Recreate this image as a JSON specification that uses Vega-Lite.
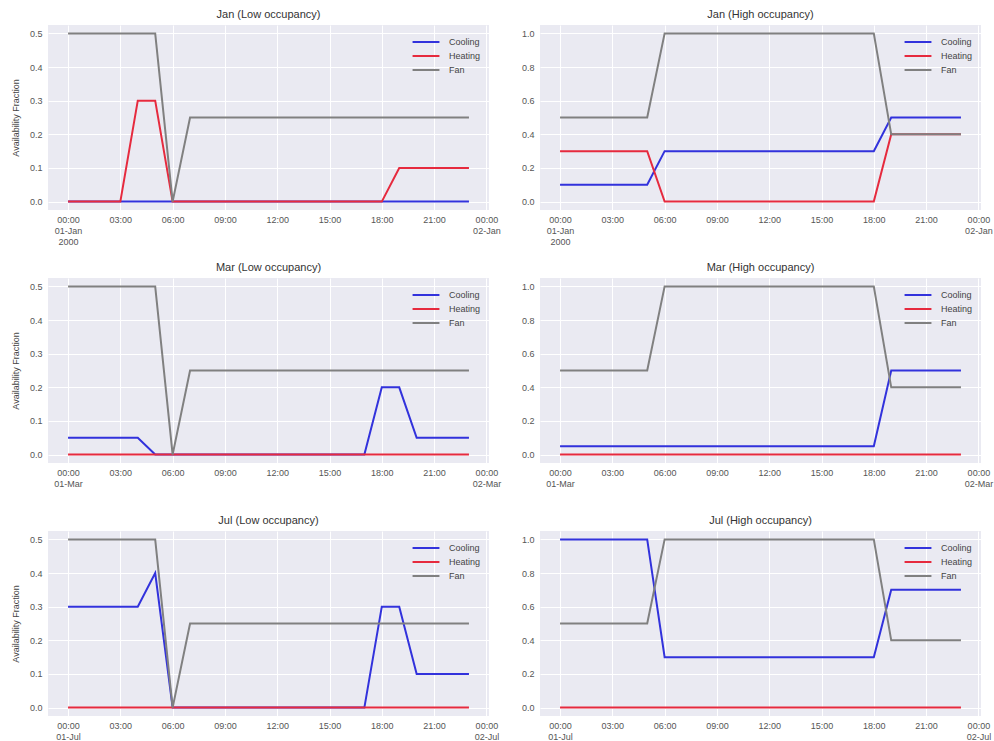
{
  "$schema": "https://vega.github.io/schema/vega-lite/v6.json",
  "padding": {"left": 11, "top": 9, "right": 5, "bottom": 5},
  "background": "white",
  "data": {"values": [
      {"panel":"Jan Low","hour":0,"Cooling":0,"Heating":0,"Fan":0.5},
      {"panel":"Jan Low","hour":1,"Cooling":0,"Heating":0,"Fan":0.5},
      {"panel":"Jan Low","hour":2,"Cooling":0,"Heating":0,"Fan":0.5},
      {"panel":"Jan Low","hour":3,"Cooling":0,"Heating":0,"Fan":0.5},
      {"panel":"Jan Low","hour":4,"Cooling":0,"Heating":0.3,"Fan":0.5},
      {"panel":"Jan Low","hour":5,"Cooling":0,"Heating":0.3,"Fan":0.5},
      {"panel":"Jan Low","hour":6,"Cooling":0,"Heating":0,"Fan":0},
      {"panel":"Jan Low","hour":7,"Cooling":0,"Heating":0,"Fan":0.25},
      {"panel":"Jan Low","hour":8,"Cooling":0,"Heating":0,"Fan":0.25},
      {"panel":"Jan Low","hour":9,"Cooling":0,"Heating":0,"Fan":0.25},
      {"panel":"Jan Low","hour":10,"Cooling":0,"Heating":0,"Fan":0.25},
      {"panel":"Jan Low","hour":11,"Cooling":0,"Heating":0,"Fan":0.25},
      {"panel":"Jan Low","hour":12,"Cooling":0,"Heating":0,"Fan":0.25},
      {"panel":"Jan Low","hour":13,"Cooling":0,"Heating":0,"Fan":0.25},
      {"panel":"Jan Low","hour":14,"Cooling":0,"Heating":0,"Fan":0.25},
      {"panel":"Jan Low","hour":15,"Cooling":0,"Heating":0,"Fan":0.25},
      {"panel":"Jan Low","hour":16,"Cooling":0,"Heating":0,"Fan":0.25},
      {"panel":"Jan Low","hour":17,"Cooling":0,"Heating":0,"Fan":0.25},
      {"panel":"Jan Low","hour":18,"Cooling":0,"Heating":0,"Fan":0.25},
      {"panel":"Jan Low","hour":19,"Cooling":0,"Heating":0.1,"Fan":0.25},
      {"panel":"Jan Low","hour":20,"Cooling":0,"Heating":0.1,"Fan":0.25},
      {"panel":"Jan Low","hour":21,"Cooling":0,"Heating":0.1,"Fan":0.25},
      {"panel":"Jan Low","hour":22,"Cooling":0,"Heating":0.1,"Fan":0.25},
      {"panel":"Jan Low","hour":23,"Cooling":0,"Heating":0.1,"Fan":0.25},

      {"panel":"Jan High","hour":0,"Cooling":0.1,"Heating":0.3,"Fan":0.5},
      {"panel":"Jan High","hour":1,"Cooling":0.1,"Heating":0.3,"Fan":0.5},
      {"panel":"Jan High","hour":2,"Cooling":0.1,"Heating":0.3,"Fan":0.5},
      {"panel":"Jan High","hour":3,"Cooling":0.1,"Heating":0.3,"Fan":0.5},
      {"panel":"Jan High","hour":4,"Cooling":0.1,"Heating":0.3,"Fan":0.5},
      {"panel":"Jan High","hour":5,"Cooling":0.1,"Heating":0.3,"Fan":0.5},
      {"panel":"Jan High","hour":6,"Cooling":0.3,"Heating":0,"Fan":1.0},
      {"panel":"Jan High","hour":7,"Cooling":0.3,"Heating":0,"Fan":1.0},
      {"panel":"Jan High","hour":8,"Cooling":0.3,"Heating":0,"Fan":1.0},
      {"panel":"Jan High","hour":9,"Cooling":0.3,"Heating":0,"Fan":1.0},
      {"panel":"Jan High","hour":10,"Cooling":0.3,"Heating":0,"Fan":1.0},
      {"panel":"Jan High","hour":11,"Cooling":0.3,"Heating":0,"Fan":1.0},
      {"panel":"Jan High","hour":12,"Cooling":0.3,"Heating":0,"Fan":1.0},
      {"panel":"Jan High","hour":13,"Cooling":0.3,"Heating":0,"Fan":1.0},
      {"panel":"Jan High","hour":14,"Cooling":0.3,"Heating":0,"Fan":1.0},
      {"panel":"Jan High","hour":15,"Cooling":0.3,"Heating":0,"Fan":1.0},
      {"panel":"Jan High","hour":16,"Cooling":0.3,"Heating":0,"Fan":1.0},
      {"panel":"Jan High","hour":17,"Cooling":0.3,"Heating":0,"Fan":1.0},
      {"panel":"Jan High","hour":18,"Cooling":0.3,"Heating":0,"Fan":1.0},
      {"panel":"Jan High","hour":19,"Cooling":0.5,"Heating":0.4,"Fan":0.4},
      {"panel":"Jan High","hour":20,"Cooling":0.5,"Heating":0.4,"Fan":0.4},
      {"panel":"Jan High","hour":21,"Cooling":0.5,"Heating":0.4,"Fan":0.4},
      {"panel":"Jan High","hour":22,"Cooling":0.5,"Heating":0.4,"Fan":0.4},
      {"panel":"Jan High","hour":23,"Cooling":0.5,"Heating":0.4,"Fan":0.4},

      {"panel":"Mar Low","hour":0,"Cooling":0.05,"Heating":0,"Fan":0.5},
      {"panel":"Mar Low","hour":1,"Cooling":0.05,"Heating":0,"Fan":0.5},
      {"panel":"Mar Low","hour":2,"Cooling":0.05,"Heating":0,"Fan":0.5},
      {"panel":"Mar Low","hour":3,"Cooling":0.05,"Heating":0,"Fan":0.5},
      {"panel":"Mar Low","hour":4,"Cooling":0.05,"Heating":0,"Fan":0.5},
      {"panel":"Mar Low","hour":5,"Cooling":0,"Heating":0,"Fan":0.5},
      {"panel":"Mar Low","hour":6,"Cooling":0,"Heating":0,"Fan":0},
      {"panel":"Mar Low","hour":7,"Cooling":0,"Heating":0,"Fan":0.25},
      {"panel":"Mar Low","hour":8,"Cooling":0,"Heating":0,"Fan":0.25},
      {"panel":"Mar Low","hour":9,"Cooling":0,"Heating":0,"Fan":0.25},
      {"panel":"Mar Low","hour":10,"Cooling":0,"Heating":0,"Fan":0.25},
      {"panel":"Mar Low","hour":11,"Cooling":0,"Heating":0,"Fan":0.25},
      {"panel":"Mar Low","hour":12,"Cooling":0,"Heating":0,"Fan":0.25},
      {"panel":"Mar Low","hour":13,"Cooling":0,"Heating":0,"Fan":0.25},
      {"panel":"Mar Low","hour":14,"Cooling":0,"Heating":0,"Fan":0.25},
      {"panel":"Mar Low","hour":15,"Cooling":0,"Heating":0,"Fan":0.25},
      {"panel":"Mar Low","hour":16,"Cooling":0,"Heating":0,"Fan":0.25},
      {"panel":"Mar Low","hour":17,"Cooling":0,"Heating":0,"Fan":0.25},
      {"panel":"Mar Low","hour":18,"Cooling":0.2,"Heating":0,"Fan":0.25},
      {"panel":"Mar Low","hour":19,"Cooling":0.2,"Heating":0,"Fan":0.25},
      {"panel":"Mar Low","hour":20,"Cooling":0.05,"Heating":0,"Fan":0.25},
      {"panel":"Mar Low","hour":21,"Cooling":0.05,"Heating":0,"Fan":0.25},
      {"panel":"Mar Low","hour":22,"Cooling":0.05,"Heating":0,"Fan":0.25},
      {"panel":"Mar Low","hour":23,"Cooling":0.05,"Heating":0,"Fan":0.25},

      {"panel":"Mar High","hour":0,"Cooling":0.05,"Heating":0,"Fan":0.5},
      {"panel":"Mar High","hour":1,"Cooling":0.05,"Heating":0,"Fan":0.5},
      {"panel":"Mar High","hour":2,"Cooling":0.05,"Heating":0,"Fan":0.5},
      {"panel":"Mar High","hour":3,"Cooling":0.05,"Heating":0,"Fan":0.5},
      {"panel":"Mar High","hour":4,"Cooling":0.05,"Heating":0,"Fan":0.5},
      {"panel":"Mar High","hour":5,"Cooling":0.05,"Heating":0,"Fan":0.5},
      {"panel":"Mar High","hour":6,"Cooling":0.05,"Heating":0,"Fan":1.0},
      {"panel":"Mar High","hour":7,"Cooling":0.05,"Heating":0,"Fan":1.0},
      {"panel":"Mar High","hour":8,"Cooling":0.05,"Heating":0,"Fan":1.0},
      {"panel":"Mar High","hour":9,"Cooling":0.05,"Heating":0,"Fan":1.0},
      {"panel":"Mar High","hour":10,"Cooling":0.05,"Heating":0,"Fan":1.0},
      {"panel":"Mar High","hour":11,"Cooling":0.05,"Heating":0,"Fan":1.0},
      {"panel":"Mar High","hour":12,"Cooling":0.05,"Heating":0,"Fan":1.0},
      {"panel":"Mar High","hour":13,"Cooling":0.05,"Heating":0,"Fan":1.0},
      {"panel":"Mar High","hour":14,"Cooling":0.05,"Heating":0,"Fan":1.0},
      {"panel":"Mar High","hour":15,"Cooling":0.05,"Heating":0,"Fan":1.0},
      {"panel":"Mar High","hour":16,"Cooling":0.05,"Heating":0,"Fan":1.0},
      {"panel":"Mar High","hour":17,"Cooling":0.05,"Heating":0,"Fan":1.0},
      {"panel":"Mar High","hour":18,"Cooling":0.05,"Heating":0,"Fan":1.0},
      {"panel":"Mar High","hour":19,"Cooling":0.5,"Heating":0,"Fan":0.4},
      {"panel":"Mar High","hour":20,"Cooling":0.5,"Heating":0,"Fan":0.4},
      {"panel":"Mar High","hour":21,"Cooling":0.5,"Heating":0,"Fan":0.4},
      {"panel":"Mar High","hour":22,"Cooling":0.5,"Heating":0,"Fan":0.4},
      {"panel":"Mar High","hour":23,"Cooling":0.5,"Heating":0,"Fan":0.4},

      {"panel":"Jul Low","hour":0,"Cooling":0.3,"Heating":0,"Fan":0.5},
      {"panel":"Jul Low","hour":1,"Cooling":0.3,"Heating":0,"Fan":0.5},
      {"panel":"Jul Low","hour":2,"Cooling":0.3,"Heating":0,"Fan":0.5},
      {"panel":"Jul Low","hour":3,"Cooling":0.3,"Heating":0,"Fan":0.5},
      {"panel":"Jul Low","hour":4,"Cooling":0.3,"Heating":0,"Fan":0.5},
      {"panel":"Jul Low","hour":5,"Cooling":0.4,"Heating":0,"Fan":0.5},
      {"panel":"Jul Low","hour":6,"Cooling":0,"Heating":0,"Fan":0},
      {"panel":"Jul Low","hour":7,"Cooling":0,"Heating":0,"Fan":0.25},
      {"panel":"Jul Low","hour":8,"Cooling":0,"Heating":0,"Fan":0.25},
      {"panel":"Jul Low","hour":9,"Cooling":0,"Heating":0,"Fan":0.25},
      {"panel":"Jul Low","hour":10,"Cooling":0,"Heating":0,"Fan":0.25},
      {"panel":"Jul Low","hour":11,"Cooling":0,"Heating":0,"Fan":0.25},
      {"panel":"Jul Low","hour":12,"Cooling":0,"Heating":0,"Fan":0.25},
      {"panel":"Jul Low","hour":13,"Cooling":0,"Heating":0,"Fan":0.25},
      {"panel":"Jul Low","hour":14,"Cooling":0,"Heating":0,"Fan":0.25},
      {"panel":"Jul Low","hour":15,"Cooling":0,"Heating":0,"Fan":0.25},
      {"panel":"Jul Low","hour":16,"Cooling":0,"Heating":0,"Fan":0.25},
      {"panel":"Jul Low","hour":17,"Cooling":0,"Heating":0,"Fan":0.25},
      {"panel":"Jul Low","hour":18,"Cooling":0.3,"Heating":0,"Fan":0.25},
      {"panel":"Jul Low","hour":19,"Cooling":0.3,"Heating":0,"Fan":0.25},
      {"panel":"Jul Low","hour":20,"Cooling":0.1,"Heating":0,"Fan":0.25},
      {"panel":"Jul Low","hour":21,"Cooling":0.1,"Heating":0,"Fan":0.25},
      {"panel":"Jul Low","hour":22,"Cooling":0.1,"Heating":0,"Fan":0.25},
      {"panel":"Jul Low","hour":23,"Cooling":0.1,"Heating":0,"Fan":0.25},

      {"panel":"Jul High","hour":0,"Cooling":1.0,"Heating":0,"Fan":0.5},
      {"panel":"Jul High","hour":1,"Cooling":1.0,"Heating":0,"Fan":0.5},
      {"panel":"Jul High","hour":2,"Cooling":1.0,"Heating":0,"Fan":0.5},
      {"panel":"Jul High","hour":3,"Cooling":1.0,"Heating":0,"Fan":0.5},
      {"panel":"Jul High","hour":4,"Cooling":1.0,"Heating":0,"Fan":0.5},
      {"panel":"Jul High","hour":5,"Cooling":1.0,"Heating":0,"Fan":0.5},
      {"panel":"Jul High","hour":6,"Cooling":0.3,"Heating":0,"Fan":1.0},
      {"panel":"Jul High","hour":7,"Cooling":0.3,"Heating":0,"Fan":1.0},
      {"panel":"Jul High","hour":8,"Cooling":0.3,"Heating":0,"Fan":1.0},
      {"panel":"Jul High","hour":9,"Cooling":0.3,"Heating":0,"Fan":1.0},
      {"panel":"Jul High","hour":10,"Cooling":0.3,"Heating":0,"Fan":1.0},
      {"panel":"Jul High","hour":11,"Cooling":0.3,"Heating":0,"Fan":1.0},
      {"panel":"Jul High","hour":12,"Cooling":0.3,"Heating":0,"Fan":1.0},
      {"panel":"Jul High","hour":13,"Cooling":0.3,"Heating":0,"Fan":1.0},
      {"panel":"Jul High","hour":14,"Cooling":0.3,"Heating":0,"Fan":1.0},
      {"panel":"Jul High","hour":15,"Cooling":0.3,"Heating":0,"Fan":1.0},
      {"panel":"Jul High","hour":16,"Cooling":0.3,"Heating":0,"Fan":1.0},
      {"panel":"Jul High","hour":17,"Cooling":0.3,"Heating":0,"Fan":1.0},
      {"panel":"Jul High","hour":18,"Cooling":0.3,"Heating":0,"Fan":1.0},
      {"panel":"Jul High","hour":19,"Cooling":0.7,"Heating":0,"Fan":0.4},
      {"panel":"Jul High","hour":20,"Cooling":0.7,"Heating":0,"Fan":0.4},
      {"panel":"Jul High","hour":21,"Cooling":0.7,"Heating":0,"Fan":0.4},
      {"panel":"Jul High","hour":22,"Cooling":0.7,"Heating":0,"Fan":0.4},
      {"panel":"Jul High","hour":23,"Cooling":0.7,"Heating":0,"Fan":0.4}
  ]},
  "columns": 2,
  "spacing": {"row": 68, "column": 51},
  "bounds": "flush",
  "resolve": {
    "scale": {"x": "independent", "y": "independent", "color": "independent"},
    "legend": {"color": "independent"}
  },
  "concat": [
    {
      "title": "Jan (Low occupancy)",
      "width": 441, "height": 185,
      "transform": [{"filter": "datum.panel == 'Jan Low'"}, {"fold": ["Cooling", "Heating", "Fan"], "as": ["series", "value"]}],
      "mark": {"type": "line"},
      "encoding": {
        "x": {"field": "hour", "type": "quantitative", "scale": {"domain": [-1.15, 24.15], "nice": false, "zero": false}, "axis": {"title": null, "values": [0, 3, 6, 9, 12, 15, 18, 21, 24], "labelExpr": "datum.value == 0 ? ['00:00', '01-Jan', '2000'] : datum.value == 24 ? ['00:00', '02-Jan'] : (datum.value < 10 ? '0' : '') + datum.value + ':00'"}},
        "y": {"field": "value", "type": "quantitative", "scale": {"domain": [-0.025, 0.525], "nice": false, "zero": false}, "axis": {"values": [0, 0.1, 0.2, 0.3, 0.4, 0.5], "format": ".1f", "title": "Availability Fraction"}},
        "color": {"field": "series", "type": "nominal", "sort": null, "scale": {"domain": ["Cooling", "Heating", "Fan"], "range": ["#3232dc", "#e62a3e", "#808080"]}},
        "strokeWidth": {"field": "series", "type": "ordinal", "scale": {"domain": ["Cooling", "Heating", "Fan"], "range": [2, 2, 1.5]}, "legend": null}
      }
    },
    {
      "title": "Jan (High occupancy)",
      "width": 441, "height": 185,
      "transform": [{"filter": "datum.panel == 'Jan High'"}, {"fold": ["Cooling", "Heating", "Fan"], "as": ["series", "value"]}],
      "mark": {"type": "line"},
      "encoding": {
        "x": {"field": "hour", "type": "quantitative", "scale": {"domain": [-1.15, 24.15], "nice": false, "zero": false}, "axis": {"title": null, "values": [0, 3, 6, 9, 12, 15, 18, 21, 24], "labelExpr": "datum.value == 0 ? ['00:00', '01-Jan', '2000'] : datum.value == 24 ? ['00:00', '02-Jan'] : (datum.value < 10 ? '0' : '') + datum.value + ':00'"}},
        "y": {"field": "value", "type": "quantitative", "scale": {"domain": [-0.05, 1.05], "nice": false, "zero": false}, "axis": {"values": [0, 0.2, 0.4, 0.6, 0.8, 1.0], "format": ".1f", "title": null}},
        "color": {"field": "series", "type": "nominal", "sort": null, "scale": {"domain": ["Cooling", "Heating", "Fan"], "range": ["#3232dc", "#e62a3e", "#808080"]}},
        "strokeWidth": {"field": "series", "type": "ordinal", "scale": {"domain": ["Cooling", "Heating", "Fan"], "range": [2, 2, 1.5]}, "legend": null}
      }
    },
    {
      "title": "Mar (Low occupancy)",
      "width": 441, "height": 185,
      "transform": [{"filter": "datum.panel == 'Mar Low'"}, {"fold": ["Cooling", "Heating", "Fan"], "as": ["series", "value"]}],
      "mark": {"type": "line"},
      "encoding": {
        "x": {"field": "hour", "type": "quantitative", "scale": {"domain": [-1.15, 24.15], "nice": false, "zero": false}, "axis": {"title": null, "values": [0, 3, 6, 9, 12, 15, 18, 21, 24], "labelExpr": "datum.value == 0 ? ['00:00', '01-Mar'] : datum.value == 24 ? ['00:00', '02-Mar'] : (datum.value < 10 ? '0' : '') + datum.value + ':00'"}},
        "y": {"field": "value", "type": "quantitative", "scale": {"domain": [-0.025, 0.525], "nice": false, "zero": false}, "axis": {"values": [0, 0.1, 0.2, 0.3, 0.4, 0.5], "format": ".1f", "title": "Availability Fraction"}},
        "color": {"field": "series", "type": "nominal", "sort": null, "scale": {"domain": ["Cooling", "Heating", "Fan"], "range": ["#3232dc", "#e62a3e", "#808080"]}},
        "strokeWidth": {"field": "series", "type": "ordinal", "scale": {"domain": ["Cooling", "Heating", "Fan"], "range": [2, 2, 1.5]}, "legend": null}
      }
    },
    {
      "title": "Mar (High occupancy)",
      "width": 441, "height": 185,
      "transform": [{"filter": "datum.panel == 'Mar High'"}, {"fold": ["Cooling", "Heating", "Fan"], "as": ["series", "value"]}],
      "mark": {"type": "line"},
      "encoding": {
        "x": {"field": "hour", "type": "quantitative", "scale": {"domain": [-1.15, 24.15], "nice": false, "zero": false}, "axis": {"title": null, "values": [0, 3, 6, 9, 12, 15, 18, 21, 24], "labelExpr": "datum.value == 0 ? ['00:00', '01-Mar'] : datum.value == 24 ? ['00:00', '02-Mar'] : (datum.value < 10 ? '0' : '') + datum.value + ':00'"}},
        "y": {"field": "value", "type": "quantitative", "scale": {"domain": [-0.05, 1.05], "nice": false, "zero": false}, "axis": {"values": [0, 0.2, 0.4, 0.6, 0.8, 1.0], "format": ".1f", "title": null}},
        "color": {"field": "series", "type": "nominal", "sort": null, "scale": {"domain": ["Cooling", "Heating", "Fan"], "range": ["#3232dc", "#e62a3e", "#808080"]}},
        "strokeWidth": {"field": "series", "type": "ordinal", "scale": {"domain": ["Cooling", "Heating", "Fan"], "range": [2, 2, 1.5]}, "legend": null}
      }
    },
    {
      "title": "Jul (Low occupancy)",
      "width": 441, "height": 185,
      "transform": [{"filter": "datum.panel == 'Jul Low'"}, {"fold": ["Cooling", "Heating", "Fan"], "as": ["series", "value"]}],
      "mark": {"type": "line"},
      "encoding": {
        "x": {"field": "hour", "type": "quantitative", "scale": {"domain": [-1.15, 24.15], "nice": false, "zero": false}, "axis": {"title": null, "values": [0, 3, 6, 9, 12, 15, 18, 21, 24], "labelExpr": "datum.value == 0 ? ['00:00', '01-Jul'] : datum.value == 24 ? ['00:00', '02-Jul'] : (datum.value < 10 ? '0' : '') + datum.value + ':00'"}},
        "y": {"field": "value", "type": "quantitative", "scale": {"domain": [-0.025, 0.525], "nice": false, "zero": false}, "axis": {"values": [0, 0.1, 0.2, 0.3, 0.4, 0.5], "format": ".1f", "title": "Availability Fraction"}},
        "color": {"field": "series", "type": "nominal", "sort": null, "scale": {"domain": ["Cooling", "Heating", "Fan"], "range": ["#3232dc", "#e62a3e", "#808080"]}},
        "strokeWidth": {"field": "series", "type": "ordinal", "scale": {"domain": ["Cooling", "Heating", "Fan"], "range": [2, 2, 1.5]}, "legend": null}
      }
    },
    {
      "title": "Jul (High occupancy)",
      "width": 441, "height": 185,
      "transform": [{"filter": "datum.panel == 'Jul High'"}, {"fold": ["Cooling", "Heating", "Fan"], "as": ["series", "value"]}],
      "mark": {"type": "line"},
      "encoding": {
        "x": {"field": "hour", "type": "quantitative", "scale": {"domain": [-1.15, 24.15], "nice": false, "zero": false}, "axis": {"title": null, "values": [0, 3, 6, 9, 12, 15, 18, 21, 24], "labelExpr": "datum.value == 0 ? ['00:00', '01-Jul'] : datum.value == 24 ? ['00:00', '02-Jul'] : (datum.value < 10 ? '0' : '') + datum.value + ':00'"}},
        "y": {"field": "value", "type": "quantitative", "scale": {"domain": [-0.05, 1.05], "nice": false, "zero": false}, "axis": {"values": [0, 0.2, 0.4, 0.6, 0.8, 1.0], "format": ".1f", "title": null}},
        "color": {"field": "series", "type": "nominal", "sort": null, "scale": {"domain": ["Cooling", "Heating", "Fan"], "range": ["#3232dc", "#e62a3e", "#808080"]}},
        "strokeWidth": {"field": "series", "type": "ordinal", "scale": {"domain": ["Cooling", "Heating", "Fan"], "range": [2, 2, 1.5]}, "legend": null}
      }
    }
  ],
  "config": {
    "font": "Liberation Sans",
    "view": {"fill": "#EAEAF2", "stroke": null},
    "title": {"fontSize": 11, "fontWeight": "normal", "color": "#333333", "offset": 5},
    "axis": {
      "domain": false, "ticks": false, "gridColor": "#ffffff", "gridWidth": 1, "gridOpacity": 1,
      "labelFontSize": 9, "labelColor": "#555555", "labelPadding": 5,
      "titleFontSize": 9, "titleFontWeight": "normal", "titleColor": "#444444", "titlePadding": 9
    },
    "axisY": {"labelPadding": 6},
    "axisX": {"labelFlush": false, "labelOverlap": false, "labelLineHeight": 11},
    "legend": {
      "orient": "top-right", "title": null, "offset": 8,
      "labelFontSize": 9, "labelColor": "#444444",
      "symbolType": "M-1.7,0H1.7", "symbolSize": 250, "symbolStrokeWidth": 2,
      "rowPadding": 0, "padding": 0, "labelOffset": 14
    }
  }
}
